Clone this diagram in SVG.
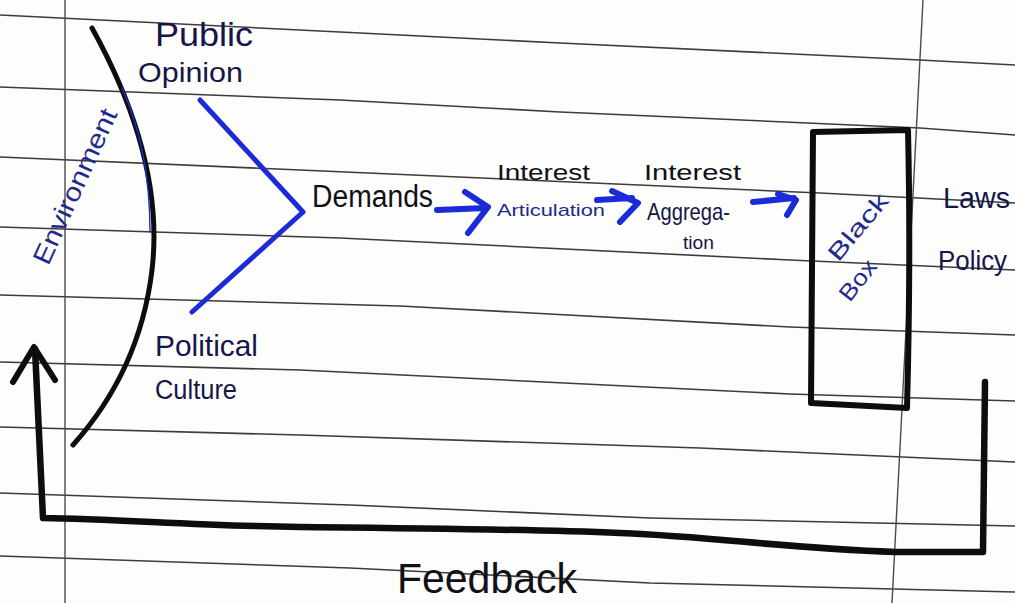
<svg xmlns="http://www.w3.org/2000/svg" width="1015" height="603" viewBox="0 0 1015 603">
  <style>
    .rule { fill: none; stroke: #3c3c3c; stroke-width: 1.6; stroke-linejoin: round; }
    .margin { fill: none; stroke: #4a4a4a; stroke-width: 1.4; }
    .ink { fill: none; stroke: #0d0d0d; stroke-linecap: round; stroke-linejoin: round; }
    .blue { fill: none; stroke: #1b2bd8; stroke-linecap: round; stroke-linejoin: round; }
    .hand { font-family: "Liberation Sans", "DejaVu Sans", sans-serif; }
    .navy { fill: #15154a; }
    .pen { fill: #1f2a8c; }
    .dark { fill: #101018; }
  </style>

  <!-- notebook page -->
  <rect width="1015" height="603" fill="#fdfdfb"/>
  <g id="paper">
    <polyline class="rule" points="0,15 340,32 560,43 920,60 1015,65"/>
    <polyline class="rule" points="0,87 340,100 560,112 920,128 1015,135"/>
    <polyline class="rule" points="0,157 300,170 820,193 1015,203"/>
    <polyline class="rule" points="0,227 340,238 790,260 1015,270"/>
    <polyline class="rule" points="0,295 400,306 790,327 1015,335"/>
    <polyline class="rule" points="0,362 300,370 790,394 1015,401"/>
    <polyline class="rule" points="0,427 300,435 700,448 1015,462"/>
    <polyline class="rule" points="0,493 350,505 650,518 1015,526"/>
    <polyline class="rule" points="0,556 350,568 650,583 1015,592"/>
    <line class="margin" x1="65" y1="0" x2="65" y2="603"/>
    <line class="margin" x1="923" y1="0" x2="892" y2="603"/>
  </g>

  <!-- environment boundary -->
  <g id="environment">
    <path class="ink" stroke-width="5" d="M92,28 Q165,160 152,270 Q140,370 73,445"/>
    <path class="blue" stroke-width="1.4" d="M122,88 Q150,150 150,232"/>
    <text class="hand pen" font-size="26" text-anchor="middle" textLength="168" lengthAdjust="spacingAndGlyphs" transform="translate(83,190) rotate(-65.5)">Environment</text>
  </g>

  <g id="public-opinion">
    <text class="hand navy" x="155" y="46" font-size="34" textLength="98" lengthAdjust="spacingAndGlyphs">Public</text>
    <text class="hand navy" x="138" y="82" font-size="28" textLength="105" lengthAdjust="spacingAndGlyphs">Opinion</text>
  </g>

  <g id="political-culture">
    <text class="hand navy" x="155" y="356" font-size="29" textLength="103" lengthAdjust="spacingAndGlyphs">Political</text>
    <text class="hand navy" x="155" y="399" font-size="27" textLength="82" lengthAdjust="spacingAndGlyphs">Culture</text>
  </g>

  <g id="demands">
    <text class="hand dark" x="312" y="207" font-size="31" textLength="121" lengthAdjust="spacingAndGlyphs">Demands</text>
  </g>

  <g id="interest-articulation">
    <text class="hand dark" x="497" y="180" font-size="22" textLength="93" lengthAdjust="spacingAndGlyphs">Interest</text>
    <text class="hand pen" x="497" y="216" font-size="17" textLength="108" lengthAdjust="spacingAndGlyphs">Articulation</text>
  </g>

  <g id="interest-aggregation">
    <text class="hand dark" x="644" y="180" font-size="22" textLength="97" lengthAdjust="spacingAndGlyphs">Interest</text>
    <text class="hand navy" x="647" y="220" font-size="24" textLength="83" lengthAdjust="spacingAndGlyphs">Aggrega-</text>
    <text class="hand navy" x="683" y="249" font-size="18" textLength="31" lengthAdjust="spacingAndGlyphs">tion</text>
  </g>

  <g id="black-box">
    <path class="ink" stroke-width="6" d="M813,132 L908,130 Q911,260 907,408 L811,403 Z"/>
    <text class="hand pen" font-size="23" text-anchor="middle" textLength="80" lengthAdjust="spacingAndGlyphs" transform="translate(864,232) rotate(-50)">Black</text>
    <text class="hand pen" font-size="23" text-anchor="middle" textLength="46" lengthAdjust="spacingAndGlyphs" transform="translate(864,285) rotate(-52)">Box</text>
  </g>

  <g id="laws-policy">
    <text class="hand navy" x="943" y="208" font-size="30" textLength="67" lengthAdjust="spacingAndGlyphs">Laws</text>
    <text class="hand navy" x="938" y="270" font-size="28" textLength="69" lengthAdjust="spacingAndGlyphs">Policy</text>
  </g>

  <g id="feedback-label">
    <text class="hand dark" x="397" y="593" font-size="42" textLength="180" lengthAdjust="spacingAndGlyphs">Feedback</text>
  </g>

  <!-- flow connectors -->
  <g id="connectors">
    <path class="blue" stroke-width="5" d="M200,100 L303,212 L192,312"/>

    <path class="blue" stroke-width="6" d="M437,210 L486,208 M465,192 L488,207 L468,233"/>
    <path class="blue" stroke-width="6" d="M597,200 L632,198 M612,191 L638,203 L620,222"/>
    <path class="blue" stroke-width="6" d="M753,202 L794,198 M778,194 L796,200 L787,215"/>

    <path class="ink" stroke-width="6.5" d="M985,382 L983,552 L895,552 C780,548 720,537 620,533 S400,528 300,527 S120,519 43,518 L35,349"/>
    <path class="ink" stroke-width="6" d="M13,382 L34,347 L55,380"/>
  </g>
</svg>
